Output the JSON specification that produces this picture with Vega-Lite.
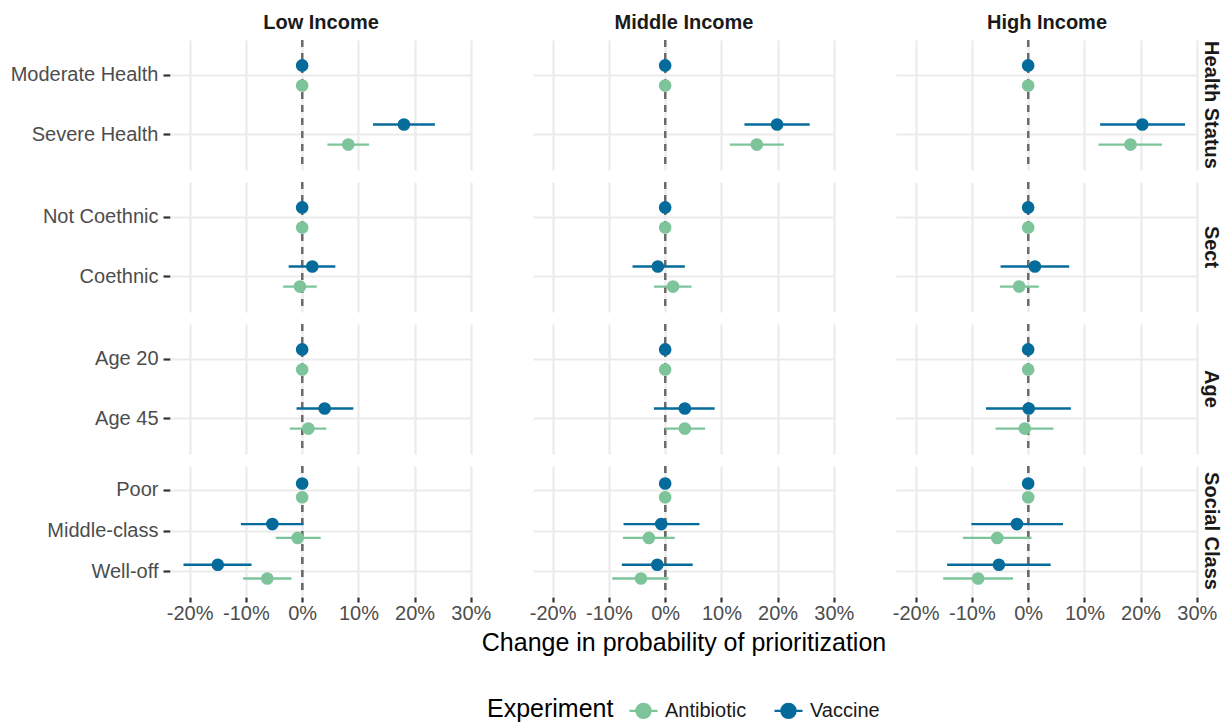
{
  "$schema": "https://vega.github.io/schema/vega-lite/v6.json",
  "padding": {"left": 5, "top": 13, "right": 3, "bottom": 75},
  "background": "white",
  "data": {"values": [
    {"income": "Low Income", "group": "Health Status", "cat": "Moderate Health", "ord": 1, "exp": "Vaccine", "est": 0, "lo": null, "hi": null},
    {"income": "Low Income", "group": "Health Status", "cat": "Moderate Health", "ord": 1, "exp": "Antibiotic", "est": 0, "lo": null, "hi": null},
    {"income": "Low Income", "group": "Health Status", "cat": "Severe Health", "ord": 2, "exp": "Vaccine", "est": 0.181, "lo": 0.126, "hi": 0.236},
    {"income": "Low Income", "group": "Health Status", "cat": "Severe Health", "ord": 2, "exp": "Antibiotic", "est": 0.082, "lo": 0.045, "hi": 0.119},
    {"income": "Low Income", "group": "Sect", "cat": "Not Coethnic", "ord": 1, "exp": "Vaccine", "est": 0, "lo": null, "hi": null},
    {"income": "Low Income", "group": "Sect", "cat": "Not Coethnic", "ord": 1, "exp": "Antibiotic", "est": 0, "lo": null, "hi": null},
    {"income": "Low Income", "group": "Sect", "cat": "Coethnic", "ord": 2, "exp": "Vaccine", "est": 0.018, "lo": -0.024, "hi": 0.059},
    {"income": "Low Income", "group": "Sect", "cat": "Coethnic", "ord": 2, "exp": "Antibiotic", "est": -0.004, "lo": -0.034, "hi": 0.026},
    {"income": "Low Income", "group": "Age", "cat": "Age 20", "ord": 1, "exp": "Vaccine", "est": 0, "lo": null, "hi": null},
    {"income": "Low Income", "group": "Age", "cat": "Age 20", "ord": 1, "exp": "Antibiotic", "est": 0, "lo": null, "hi": null},
    {"income": "Low Income", "group": "Age", "cat": "Age 45", "ord": 2, "exp": "Vaccine", "est": 0.040, "lo": -0.010, "hi": 0.091},
    {"income": "Low Income", "group": "Age", "cat": "Age 45", "ord": 2, "exp": "Antibiotic", "est": 0.011, "lo": -0.022, "hi": 0.043},
    {"income": "Low Income", "group": "Social Class", "cat": "Poor", "ord": 1, "exp": "Vaccine", "est": 0, "lo": null, "hi": null},
    {"income": "Low Income", "group": "Social Class", "cat": "Poor", "ord": 1, "exp": "Antibiotic", "est": 0, "lo": null, "hi": null},
    {"income": "Low Income", "group": "Social Class", "cat": "Middle-class", "ord": 2, "exp": "Vaccine", "est": -0.053, "lo": -0.109, "hi": 0.002},
    {"income": "Low Income", "group": "Social Class", "cat": "Middle-class", "ord": 2, "exp": "Antibiotic", "est": -0.008, "lo": -0.047, "hi": 0.033},
    {"income": "Low Income", "group": "Social Class", "cat": "Well-off", "ord": 3, "exp": "Vaccine", "est": -0.150, "lo": -0.211, "hi": -0.090},
    {"income": "Low Income", "group": "Social Class", "cat": "Well-off", "ord": 3, "exp": "Antibiotic", "est": -0.062, "lo": -0.105, "hi": -0.019},

    {"income": "Middle Income", "group": "Health Status", "cat": "Moderate Health", "ord": 1, "exp": "Vaccine", "est": 0, "lo": null, "hi": null},
    {"income": "Middle Income", "group": "Health Status", "cat": "Moderate Health", "ord": 1, "exp": "Antibiotic", "est": 0, "lo": null, "hi": null},
    {"income": "Middle Income", "group": "Health Status", "cat": "Severe Health", "ord": 2, "exp": "Vaccine", "est": 0.199, "lo": 0.141, "hi": 0.257},
    {"income": "Middle Income", "group": "Health Status", "cat": "Severe Health", "ord": 2, "exp": "Antibiotic", "est": 0.163, "lo": 0.115, "hi": 0.211},
    {"income": "Middle Income", "group": "Sect", "cat": "Not Coethnic", "ord": 1, "exp": "Vaccine", "est": 0, "lo": null, "hi": null},
    {"income": "Middle Income", "group": "Sect", "cat": "Not Coethnic", "ord": 1, "exp": "Antibiotic", "est": 0, "lo": null, "hi": null},
    {"income": "Middle Income", "group": "Sect", "cat": "Coethnic", "ord": 2, "exp": "Vaccine", "est": -0.013, "lo": -0.058, "hi": 0.035},
    {"income": "Middle Income", "group": "Sect", "cat": "Coethnic", "ord": 2, "exp": "Antibiotic", "est": 0.014, "lo": -0.020, "hi": 0.047},
    {"income": "Middle Income", "group": "Age", "cat": "Age 20", "ord": 1, "exp": "Vaccine", "est": 0, "lo": null, "hi": null},
    {"income": "Middle Income", "group": "Age", "cat": "Age 20", "ord": 1, "exp": "Antibiotic", "est": 0, "lo": null, "hi": null},
    {"income": "Middle Income", "group": "Age", "cat": "Age 45", "ord": 2, "exp": "Vaccine", "est": 0.035, "lo": -0.020, "hi": 0.088},
    {"income": "Middle Income", "group": "Age", "cat": "Age 45", "ord": 2, "exp": "Antibiotic", "est": 0.035, "lo": 0.000, "hi": 0.071},
    {"income": "Middle Income", "group": "Social Class", "cat": "Poor", "ord": 1, "exp": "Vaccine", "est": 0, "lo": null, "hi": null},
    {"income": "Middle Income", "group": "Social Class", "cat": "Poor", "ord": 1, "exp": "Antibiotic", "est": 0, "lo": null, "hi": null},
    {"income": "Middle Income", "group": "Social Class", "cat": "Middle-class", "ord": 2, "exp": "Vaccine", "est": -0.007, "lo": -0.074, "hi": 0.061},
    {"income": "Middle Income", "group": "Social Class", "cat": "Middle-class", "ord": 2, "exp": "Antibiotic", "est": -0.029, "lo": -0.075, "hi": 0.017},
    {"income": "Middle Income", "group": "Social Class", "cat": "Well-off", "ord": 3, "exp": "Vaccine", "est": -0.014, "lo": -0.077, "hi": 0.049},
    {"income": "Middle Income", "group": "Social Class", "cat": "Well-off", "ord": 3, "exp": "Antibiotic", "est": -0.043, "lo": -0.094, "hi": 0.006},

    {"income": "High Income", "group": "Health Status", "cat": "Moderate Health", "ord": 1, "exp": "Vaccine", "est": 0, "lo": null, "hi": null},
    {"income": "High Income", "group": "Health Status", "cat": "Moderate Health", "ord": 1, "exp": "Antibiotic", "est": 0, "lo": null, "hi": null},
    {"income": "High Income", "group": "Health Status", "cat": "Severe Health", "ord": 2, "exp": "Vaccine", "est": 0.203, "lo": 0.128, "hi": 0.279},
    {"income": "High Income", "group": "Health Status", "cat": "Severe Health", "ord": 2, "exp": "Antibiotic", "est": 0.182, "lo": 0.125, "hi": 0.238},
    {"income": "High Income", "group": "Sect", "cat": "Not Coethnic", "ord": 1, "exp": "Vaccine", "est": 0, "lo": null, "hi": null},
    {"income": "High Income", "group": "Sect", "cat": "Not Coethnic", "ord": 1, "exp": "Antibiotic", "est": 0, "lo": null, "hi": null},
    {"income": "High Income", "group": "Sect", "cat": "Coethnic", "ord": 2, "exp": "Vaccine", "est": 0.012, "lo": -0.049, "hi": 0.073},
    {"income": "High Income", "group": "Sect", "cat": "Coethnic", "ord": 2, "exp": "Antibiotic", "est": -0.016, "lo": -0.050, "hi": 0.019},
    {"income": "High Income", "group": "Age", "cat": "Age 20", "ord": 1, "exp": "Vaccine", "est": 0, "lo": null, "hi": null},
    {"income": "High Income", "group": "Age", "cat": "Age 20", "ord": 1, "exp": "Antibiotic", "est": 0, "lo": null, "hi": null},
    {"income": "High Income", "group": "Age", "cat": "Age 45", "ord": 2, "exp": "Vaccine", "est": 0.001, "lo": -0.075, "hi": 0.076},
    {"income": "High Income", "group": "Age", "cat": "Age 45", "ord": 2, "exp": "Antibiotic", "est": -0.006, "lo": -0.058, "hi": 0.045},
    {"income": "High Income", "group": "Social Class", "cat": "Poor", "ord": 1, "exp": "Vaccine", "est": 0, "lo": null, "hi": null},
    {"income": "High Income", "group": "Social Class", "cat": "Poor", "ord": 1, "exp": "Antibiotic", "est": 0, "lo": null, "hi": null},
    {"income": "High Income", "group": "Social Class", "cat": "Middle-class", "ord": 2, "exp": "Vaccine", "est": -0.020, "lo": -0.101, "hi": 0.062},
    {"income": "High Income", "group": "Social Class", "cat": "Middle-class", "ord": 2, "exp": "Antibiotic", "est": -0.055, "lo": -0.116, "hi": 0.006},
    {"income": "High Income", "group": "Social Class", "cat": "Well-off", "ord": 3, "exp": "Vaccine", "est": -0.052, "lo": -0.144, "hi": 0.040},
    {"income": "High Income", "group": "Social Class", "cat": "Well-off", "ord": 3, "exp": "Antibiotic", "est": -0.089, "lo": -0.151, "hi": -0.027}
  ]},
  "spacing": 10,
  "resolve": {"scale": {"x": "independent", "y": "independent", "yOffset": "independent", "color": "shared"}},
  "vconcat": [
    {
      "transform": [{"filter": "datum.group === 'Health Status'"}],
      "facet": {
        "row": {"field": "group", "type": "nominal", "title": null, "header": {"labelOrient": "right", "labelAngle": 90, "labelPadding": 3}},
        "column": {"field": "income", "type": "nominal", "title": null, "sort": ["Low Income", "Middle Income", "High Income"], "header": {"labelOrient": "top", "labelPadding": 6}}
      },
      "spacing": {"column": 61, "row": 0},
      "spec": {
        "width": 302, "height": 130,
        "layer": [
          {"mark": {"type": "rule", "strokeDash": [7, 6], "color": "#6b6b6b", "strokeWidth": 2},
           "encoding": {"x": {"datum": 0, "type": "quantitative", "scale": {"domain": [-0.235, 0.302], "nice": false, "zero": false}, "axis": {"values": [-0.2, -0.1, 0, 0.1, 0.2, 0.3], "grid": true, "labels": false, "ticks": false, "title": null}}}},
          {"mark": {"type": "rule", "strokeWidth": 2.4},
           "encoding": {
             "x": {"field": "lo", "type": "quantitative", "scale": {"domain": [-0.235, 0.302], "nice": false, "zero": false}, "axis": {"values": [-0.2, -0.1, 0, 0.1, 0.2, 0.3], "grid": true, "labels": false, "ticks": false, "title": null}},
             "x2": {"field": "hi"},
             "y": {"field": "cat", "type": "nominal", "sort": {"field": "ord", "op": "min"}, "title": null, "scale": {"paddingInner": 0, "paddingOuter": 0.1}, "axis": {"grid": true, "bandPosition": 0.5, "minExtent": 165, "maxExtent": 165}},
             "yOffset": {"field": "exp", "type": "nominal", "sort": ["Vaccine", "Antibiotic"], "scale": {"paddingInner": 0, "paddingOuter": 0.47}},
             "color": {"field": "exp", "type": "nominal", "title": "Experiment", "scale": {"domain": ["Antibiotic", "Vaccine"], "range": ["#7EC49B", "#046B9B"]}, "legend": {"orient": "none", "legendX": 317, "legendY": 655}}
           }},
          {"mark": {"type": "point", "filled": true, "size": 160, "opacity": 1},
           "encoding": {
             "x": {"field": "est", "type": "quantitative", "scale": {"domain": [-0.235, 0.302], "nice": false, "zero": false}, "axis": {"values": [-0.2, -0.1, 0, 0.1, 0.2, 0.3], "grid": true, "labels": false, "ticks": false, "title": null}},
             "y": {"field": "cat", "type": "nominal", "sort": {"field": "ord", "op": "min"}, "title": null, "scale": {"paddingInner": 0, "paddingOuter": 0.1}, "axis": {"grid": true, "bandPosition": 0.5, "minExtent": 165, "maxExtent": 165}},
             "yOffset": {"field": "exp", "type": "nominal", "sort": ["Vaccine", "Antibiotic"], "scale": {"paddingInner": 0, "paddingOuter": 0.47}},
             "color": {"field": "exp", "type": "nominal", "title": "Experiment", "scale": {"domain": ["Antibiotic", "Vaccine"], "range": ["#7EC49B", "#046B9B"]}, "legend": {"orient": "none", "legendX": 317, "legendY": 655}}
           }}
        ]
      }
    },
    {
      "transform": [{"filter": "datum.group === 'Sect'"}],
      "facet": {
        "row": {"field": "group", "type": "nominal", "title": null, "header": {"labelOrient": "right", "labelAngle": 90, "labelPadding": 3}},
        "column": {"field": "income", "type": "nominal", "title": null, "sort": ["Low Income", "Middle Income", "High Income"], "header": {"labels": false}}
      },
      "spacing": {"column": 61, "row": 0},
      "spec": {
        "width": 302, "height": 130,
        "layer": [
          {"mark": {"type": "rule", "strokeDash": [7, 6], "color": "#6b6b6b", "strokeWidth": 2},
           "encoding": {"x": {"datum": 0, "type": "quantitative", "scale": {"domain": [-0.235, 0.302], "nice": false, "zero": false}, "axis": {"values": [-0.2, -0.1, 0, 0.1, 0.2, 0.3], "grid": true, "labels": false, "ticks": false, "title": null}}}},
          {"mark": {"type": "rule", "strokeWidth": 2.4},
           "encoding": {
             "x": {"field": "lo", "type": "quantitative", "scale": {"domain": [-0.235, 0.302], "nice": false, "zero": false}, "axis": {"values": [-0.2, -0.1, 0, 0.1, 0.2, 0.3], "grid": true, "labels": false, "ticks": false, "title": null}},
             "x2": {"field": "hi"},
             "y": {"field": "cat", "type": "nominal", "sort": {"field": "ord", "op": "min"}, "title": null, "scale": {"paddingInner": 0, "paddingOuter": 0.1}, "axis": {"grid": true, "bandPosition": 0.5, "minExtent": 165, "maxExtent": 165}},
             "yOffset": {"field": "exp", "type": "nominal", "sort": ["Vaccine", "Antibiotic"], "scale": {"paddingInner": 0, "paddingOuter": 0.47}},
             "color": {"field": "exp", "type": "nominal", "title": "Experiment", "scale": {"domain": ["Antibiotic", "Vaccine"], "range": ["#7EC49B", "#046B9B"]}, "legend": {"orient": "none", "legendX": 317, "legendY": 655}}
           }},
          {"mark": {"type": "point", "filled": true, "size": 160, "opacity": 1},
           "encoding": {
             "x": {"field": "est", "type": "quantitative", "scale": {"domain": [-0.235, 0.302], "nice": false, "zero": false}, "axis": {"values": [-0.2, -0.1, 0, 0.1, 0.2, 0.3], "grid": true, "labels": false, "ticks": false, "title": null}},
             "y": {"field": "cat", "type": "nominal", "sort": {"field": "ord", "op": "min"}, "title": null, "scale": {"paddingInner": 0, "paddingOuter": 0.1}, "axis": {"grid": true, "bandPosition": 0.5, "minExtent": 165, "maxExtent": 165}},
             "yOffset": {"field": "exp", "type": "nominal", "sort": ["Vaccine", "Antibiotic"], "scale": {"paddingInner": 0, "paddingOuter": 0.47}},
             "color": {"field": "exp", "type": "nominal", "title": "Experiment", "scale": {"domain": ["Antibiotic", "Vaccine"], "range": ["#7EC49B", "#046B9B"]}, "legend": {"orient": "none", "legendX": 317, "legendY": 655}}
           }}
        ]
      }
    },
    {
      "transform": [{"filter": "datum.group === 'Age'"}],
      "facet": {
        "row": {"field": "group", "type": "nominal", "title": null, "header": {"labelOrient": "right", "labelAngle": 90, "labelPadding": 3}},
        "column": {"field": "income", "type": "nominal", "title": null, "sort": ["Low Income", "Middle Income", "High Income"], "header": {"labels": false}}
      },
      "spacing": {"column": 61, "row": 0},
      "spec": {
        "width": 302, "height": 130,
        "layer": [
          {"mark": {"type": "rule", "strokeDash": [7, 6], "color": "#6b6b6b", "strokeWidth": 2},
           "encoding": {"x": {"datum": 0, "type": "quantitative", "scale": {"domain": [-0.235, 0.302], "nice": false, "zero": false}, "axis": {"values": [-0.2, -0.1, 0, 0.1, 0.2, 0.3], "grid": true, "labels": false, "ticks": false, "title": null}}}},
          {"mark": {"type": "rule", "strokeWidth": 2.4},
           "encoding": {
             "x": {"field": "lo", "type": "quantitative", "scale": {"domain": [-0.235, 0.302], "nice": false, "zero": false}, "axis": {"values": [-0.2, -0.1, 0, 0.1, 0.2, 0.3], "grid": true, "labels": false, "ticks": false, "title": null}},
             "x2": {"field": "hi"},
             "y": {"field": "cat", "type": "nominal", "sort": {"field": "ord", "op": "min"}, "title": null, "scale": {"paddingInner": 0, "paddingOuter": 0.1}, "axis": {"grid": true, "bandPosition": 0.5, "minExtent": 165, "maxExtent": 165}},
             "yOffset": {"field": "exp", "type": "nominal", "sort": ["Vaccine", "Antibiotic"], "scale": {"paddingInner": 0, "paddingOuter": 0.47}},
             "color": {"field": "exp", "type": "nominal", "title": "Experiment", "scale": {"domain": ["Antibiotic", "Vaccine"], "range": ["#7EC49B", "#046B9B"]}, "legend": {"orient": "none", "legendX": 317, "legendY": 655}}
           }},
          {"mark": {"type": "point", "filled": true, "size": 160, "opacity": 1},
           "encoding": {
             "x": {"field": "est", "type": "quantitative", "scale": {"domain": [-0.235, 0.302], "nice": false, "zero": false}, "axis": {"values": [-0.2, -0.1, 0, 0.1, 0.2, 0.3], "grid": true, "labels": false, "ticks": false, "title": null}},
             "y": {"field": "cat", "type": "nominal", "sort": {"field": "ord", "op": "min"}, "title": null, "scale": {"paddingInner": 0, "paddingOuter": 0.1}, "axis": {"grid": true, "bandPosition": 0.5, "minExtent": 165, "maxExtent": 165}},
             "yOffset": {"field": "exp", "type": "nominal", "sort": ["Vaccine", "Antibiotic"], "scale": {"paddingInner": 0, "paddingOuter": 0.47}},
             "color": {"field": "exp", "type": "nominal", "title": "Experiment", "scale": {"domain": ["Antibiotic", "Vaccine"], "range": ["#7EC49B", "#046B9B"]}, "legend": {"orient": "none", "legendX": 317, "legendY": 655}}
           }}
        ]
      }
    },
    {
      "transform": [{"filter": "datum.group === 'Social Class'"}],
      "facet": {
        "row": {"field": "group", "type": "nominal", "title": null, "header": {"labelOrient": "right", "labelAngle": 90, "labelPadding": 3}},
        "column": {"field": "income", "type": "nominal", "title": "Change in probability of prioritization", "sort": ["Low Income", "Middle Income", "High Income"], "header": {"labels": false, "titleOrient": "bottom", "titleFontSize": 25, "titleFontWeight": "normal", "titleColor": "#000000", "titlePadding": -2}}
      },
      "spacing": {"column": 61, "row": 0},
      "spec": {
        "width": 302, "height": 130,
        "layer": [
          {"mark": {"type": "rule", "strokeDash": [7, 6], "color": "#6b6b6b", "strokeWidth": 2},
           "encoding": {"x": {"datum": 0, "type": "quantitative", "scale": {"domain": [-0.235, 0.302], "nice": false, "zero": false}, "axis": {"values": [-0.2, -0.1, 0, 0.1, 0.2, 0.3], "grid": true, "labelExpr": "round(datum.value*100) + '%'", "tickSize": 5, "labelPadding": 1, "title": null}}}},
          {"mark": {"type": "rule", "strokeWidth": 2.4},
           "encoding": {
             "x": {"field": "lo", "type": "quantitative", "scale": {"domain": [-0.235, 0.302], "nice": false, "zero": false}, "axis": {"values": [-0.2, -0.1, 0, 0.1, 0.2, 0.3], "grid": true, "labelExpr": "round(datum.value*100) + '%'", "tickSize": 5, "labelPadding": 1, "title": null}},
             "x2": {"field": "hi"},
             "y": {"field": "cat", "type": "nominal", "sort": {"field": "ord", "op": "min"}, "title": null, "scale": {"paddingInner": 0, "paddingOuter": 0.1}, "axis": {"grid": true, "bandPosition": 0.5, "minExtent": 165, "maxExtent": 165}},
             "yOffset": {"field": "exp", "type": "nominal", "sort": ["Vaccine", "Antibiotic"], "scale": {"paddingInner": 0, "paddingOuter": 0.47}},
             "color": {"field": "exp", "type": "nominal", "title": "Experiment", "scale": {"domain": ["Antibiotic", "Vaccine"], "range": ["#7EC49B", "#046B9B"]}, "legend": {"orient": "none", "legendX": 317, "legendY": 655}}
           }},
          {"mark": {"type": "point", "filled": true, "size": 160, "opacity": 1},
           "encoding": {
             "x": {"field": "est", "type": "quantitative", "scale": {"domain": [-0.235, 0.302], "nice": false, "zero": false}, "axis": {"values": [-0.2, -0.1, 0, 0.1, 0.2, 0.3], "grid": true, "labelExpr": "round(datum.value*100) + '%'", "tickSize": 5, "labelPadding": 1, "title": null}},
             "y": {"field": "cat", "type": "nominal", "sort": {"field": "ord", "op": "min"}, "title": null, "scale": {"paddingInner": 0, "paddingOuter": 0.1}, "axis": {"grid": true, "bandPosition": 0.5, "minExtent": 165, "maxExtent": 165}},
             "yOffset": {"field": "exp", "type": "nominal", "sort": ["Vaccine", "Antibiotic"], "scale": {"paddingInner": 0, "paddingOuter": 0.47}},
             "color": {"field": "exp", "type": "nominal", "title": "Experiment", "scale": {"domain": ["Antibiotic", "Vaccine"], "range": ["#7EC49B", "#046B9B"]}, "legend": {"orient": "none", "legendX": 317, "legendY": 655}}
           }}
        ]
      }
    }
  ],
  "config": {
    "font": "Liberation Sans",
    "view": {"stroke": null},
    "axis": {"gridColor": "#EBEBEB", "gridWidth": 2.2, "domain": false, "tickColor": "#333333", "tickWidth": 2.2, "tickSize": 7, "labelFontSize": 20, "labelColor": "#4D4D4D", "labelPadding": 5, "titleFontSize": 25, "titleColor": "#000000", "titleFontWeight": "normal"},
    "header": {"labelFontSize": 20, "labelFontWeight": "bold", "labelColor": "#1A1A1A"},
    "legend": {
      "direction": "horizontal", "titleOrient": "left",
      "titleFontSize": 25, "titleFontWeight": "normal", "titleColor": "#000000", "titlePadding": 14,
      "labelFontSize": 20, "labelColor": "#1A1A1A", "labelOffset": 6, "columnPadding": 22,
      "symbolType": "M-1,0H1M-0.5,0A0.5,0.5,0,1,1,0.5,0A0.5,0.5,0,1,1,-0.5,0Z",
      "symbolSize": 784, "symbolStrokeWidth": 2.4
    }
  }
}
